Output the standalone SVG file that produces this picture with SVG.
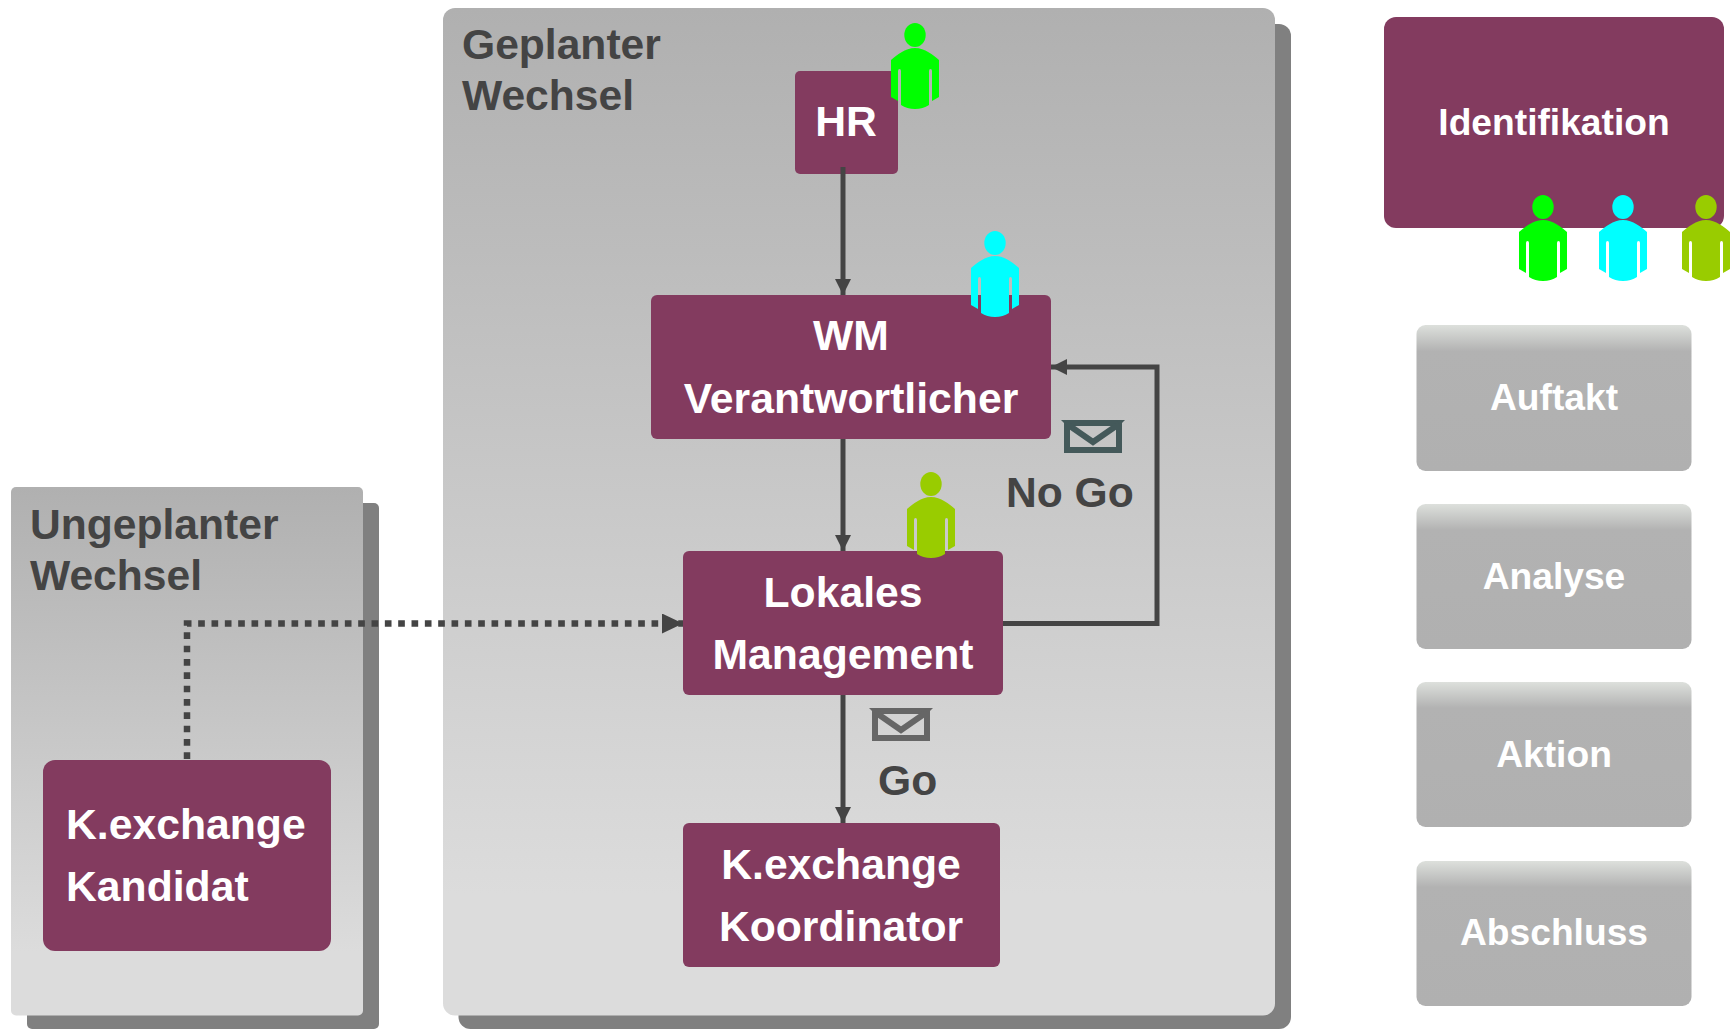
<svg xmlns="http://www.w3.org/2000/svg" xmlns:xlink="http://www.w3.org/1999/xlink" width="1735" height="1029" viewBox="0 0 1735 1029">
<style>
text{font-family:"Liberation Sans",Arial,sans-serif;font-weight:700}
.m{fill:#833b5f}
.w{fill:#fff;font-size:42.700px;text-anchor:middle}
.s{fill:#fff;font-size:37.200px;text-anchor:middle}
.d{fill:#444;font-size:42.600px}
.sh{fill:#808080}
.c{fill:none;stroke:#444;stroke-width:5}
.env{fill:none;stroke-width:6}
</style>
<defs>
<linearGradient id="g1" x1="0" y1="0" x2="0" y2="1"><stop offset="0" stop-color="#b0b0b0"/><stop offset=".88" stop-color="#dcdcdc"/><stop offset="1" stop-color="#dcdcdc"/></linearGradient>
<linearGradient id="g2" x1="0" y1="0" x2="0" y2="1"><stop offset="0" stop-color="#dde0dc"/><stop offset=".18" stop-color="#b2b2b2"/><stop offset="1" stop-color="#b0b0b0"/></linearGradient>
<marker id="a" markerUnits="userSpaceOnUse" markerWidth="16" markerHeight="16" refX="16" refY="8" orient="auto"><path d="M0 0L16 8L0 16Z" fill="#444"/></marker>
<marker id="b" markerUnits="userSpaceOnUse" markerWidth="21" markerHeight="20" refX="21" refY="10" orient="auto"><path d="M0 0L21 10L0 20Z" fill="#444"/></marker>
<g id="person">
<ellipse cx="0" cy="0" rx="10.700" ry="12"/>
<path d="M0 13C-10 13 -18 20 -24 25V62L-17 66V36Q-17 34 -15.500 34Q-14 34 -14 36V70Q-8 74 0 74Q8 74 14 70V36Q14 34 15.500 34Q17 34 17 36V66L24 62V25C18 20 10 13 0 13Z"/>
</g>
<g id="mail">
<path d="M-32 0H32L29 3H-29Z" stroke="none"/>
<rect x="-26" y="3" width="52" height="27" class="env"/>
<path d="M-26 4L0 22L26 4" class="env"/>
</g>
</defs>
<rect width="1735" height="1029" fill="#fff"/>
<g id="geplanter">
<rect class="sh" x="458.500" y="24" width="832.500" height="1005" rx="12"/>
<rect x="443" y="8" width="832" height="1007.500" rx="12" fill="url(#g1)"/>
<text class="d" x="462" y="59">Geplanter</text>
<text class="d" x="462" y="110">Wechsel</text>
</g>
<g id="ungeplanter">
<rect class="sh" x="27" y="503" width="352" height="526" rx="5"/>
<rect x="11" y="487" width="352" height="528.500" rx="5" fill="url(#g1)"/>
<text class="d" x="30" y="539">Ungeplanter</text>
<text class="d" x="30" y="590">Wechsel</text>
</g>
<g id="hr">
<rect class="m" x="795" y="71" width="103" height="103" rx="5"/>
<text class="w" x="846" y="136">HR</text>
<use xlink:href="#person" href="#person" x="915" y="35" fill="#0f0"/>
</g>
<g id="wm">
<rect class="m" x="651" y="295" width="400" height="144" rx="6"/>
<text class="w" x="851" y="350">WM</text>
<text class="w" x="851" y="413">Verantwortlicher</text>
<use xlink:href="#person" href="#person" x="995" y="243" fill="#0ff"/>
</g>
<g id="lokales">
<rect class="m" x="683" y="551" width="320" height="144" rx="6"/>
<text class="w" x="843" y="607">Lokales</text>
<text class="w" x="843" y="669">Management</text>
<use xlink:href="#person" href="#person" x="931" y="484" fill="#9c0"/>
</g>
<g id="koordinator">
<rect class="m" x="683" y="823" width="317" height="144" rx="6"/>
<text class="w" x="841" y="879">K.exchange</text>
<text class="w" x="841" y="941">Koordinator</text>
</g>
<g id="kandidat">
<rect class="m" x="43" y="760" width="288" height="191" rx="12"/>
<text class="w" x="66" y="839" style="text-anchor:start">K.exchange</text>
<text class="w" x="66" y="901" style="text-anchor:start">Kandidat</text>
</g>
<g id="identifikation">
<rect class="m" x="1384" y="17" width="340" height="211" rx="12"/>
<text class="s" x="1554" y="135">Identifikation</text>
<use xlink:href="#person" href="#person" x="1543" y="207" fill="#0f0"/>
<use xlink:href="#person" href="#person" x="1623" y="207" fill="#0ff"/>
<use xlink:href="#person" href="#person" x="1706" y="207" fill="#9c0"/>
</g>
<g id="auftakt"><rect x="1416.500" y="325" width="275" height="146" rx="9" fill="url(#g2)"/><text class="s" x="1554" y="410">Auftakt</text></g>
<g id="analyse"><rect x="1416.500" y="504" width="275" height="145" rx="9" fill="url(#g2)"/><text class="s" x="1554" y="589">Analyse</text></g>
<g id="aktion"><rect x="1416.500" y="682" width="275" height="145" rx="9" fill="url(#g2)"/><text class="s" x="1554" y="767">Aktion</text></g>
<g id="abschluss"><rect x="1416.500" y="861" width="275" height="145" rx="9" fill="url(#g2)"/><text class="s" x="1554" y="945">Abschluss</text></g>
<g id="connectors">
<path class="c" d="M843 167V295" marker-end="url(#a)"/>
<path class="c" d="M843 439V551" marker-end="url(#a)"/>
<path class="c" d="M843 695V823" marker-end="url(#a)"/>
<path class="c" d="M1003 623.500H1157V367H1051" marker-end="url(#a)"/>
<path d="M187 759V623.500H683" fill="none" stroke="#444" stroke-width="6.500" stroke-dasharray="6.667 6.667" marker-end="url(#b)"/>
</g>
<g id="nogo-label">
<use xlink:href="#mail" href="#mail" x="1093" y="420" fill="#44595a" stroke="#44595a"/>
<text class="d" x="1006" y="507">No Go</text>
</g>
<g id="go-label">
<use xlink:href="#mail" href="#mail" x="901" y="708" fill="#666" stroke="#666"/>
<text class="d" x="878" y="795">Go</text>
</g>
</svg>
